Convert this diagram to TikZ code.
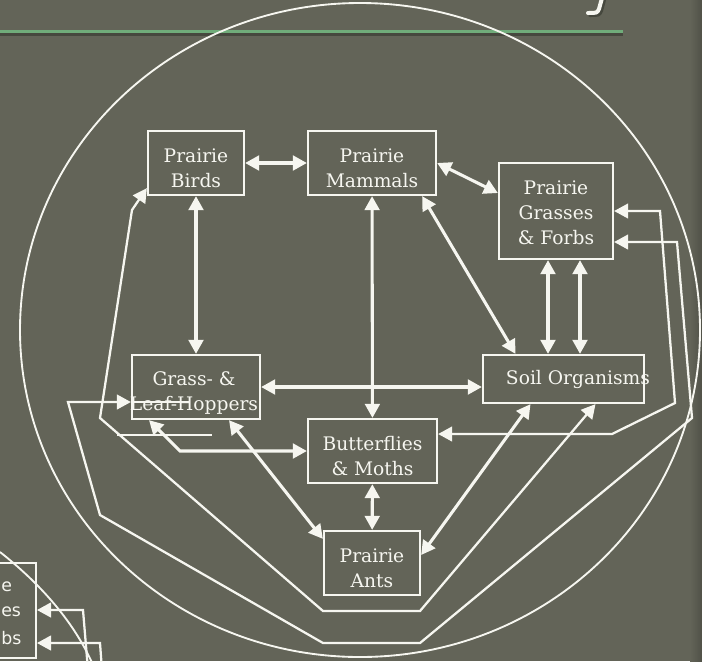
\documentclass[tikz,border=0pt]{standalone}
\usepackage{fontspec}
\setmainfont{DejaVu Serif}
\newfontfamily\slidesans{DejaVu Sans}
\usetikzlibrary{arrows.meta,calc}
\definecolor{slategrey}{RGB}{99,100,88}
\definecolor{edgeshade}{RGB}{80,81,72}
\definecolor{rulegreen}{RGB}{112,172,122}
\definecolor{ruleshadow}{RGB}{70,72,62}
\definecolor{chalk}{RGB}{246,246,240}

\begin{document}
\begin{tikzpicture}[x=0.75pt, y=-0.75pt,
    >={Triangle[length=10.5pt,width=11pt]},
    box/.style={draw=chalk, line width=1.7pt, inner sep=0pt},
    boxtext/.style={text=chalk, inner sep=0pt, align=center,
        font=\fontsize{14}{18.75}\selectfont},
    frame/.style={draw=chalk, line width=1.7pt},
    link/.style={draw=chalk, line width=2.3pt, <->},
    outerlink/.style={draw=chalk, line width=1.7pt, <->},
    stub/.style={draw=chalk, line width=1.7pt},
    rim/.style={draw=chalk, line width=1.4pt},
    copytext/.style={text=chalk, inner sep=0pt, anchor=west,
        font=\slidesans\fontsize{13}{18}\selectfont}]

    % Background
    \fill[slategrey] (0,0) rectangle (702,661);
    \useasboundingbox (0,0) rectangle (702,661);
    \clip (0,0) rectangle (702,661);
    \shade[left color=slategrey, right color=edgeshade] (690,0) rectangle (702,661);

    % Title rule and what is left of the title
    \fill[ruleshadow] (0,32.5) rectangle (623,35.5);
    \fill[rulegreen] (0,30) rectangle (623,32.5);
    \draw[ruleshadow, line width=3pt, line cap=round] (604,0) -- (601,11) .. controls (599,15) .. (590,15);
    \draw[chalk, line width=3pt, line cap=round] (602,-2) -- (599,9) .. controls (597,13) .. (588,13);

    % Circle
    \draw[rim] (360,330) ellipse [x radius=255pt, y radius=245.25pt];

    % Boxes
    \node[box, minimum width=72pt, minimum height=48pt] (birds) at (196,163) {};
    \node[box, minimum width=96pt, minimum height=48pt] (mammals) at (372,163) {};
    \node[box, minimum width=85.5pt, minimum height=72pt] (grasses) at (556,211) {};
    \node[box, minimum width=120.75pt, minimum height=36pt] (soil) at (563.5,379) {};
    \node[box, minimum width=96pt, minimum height=48pt] (hoppers) at (196,387) {};
    \node[box, minimum width=96.75pt, minimum height=48pt] (butter) at (372.5,451) {};
    \node[box, minimum width=72pt, minimum height=48pt] (ants) at (372,563) {};

    % Box texts
    \node[boxtext] (birdstext) at ($(birds)+(0,5)$) {Prairie\\Birds};
    \node[boxtext] (mammalstext) at ($(mammals)+(0,5)$) {Prairie\\Mammals};
    \node[boxtext] (grassestext) at ($(grasses)+(0,2)$) {Prairie\\Grasses\\\& Forbs};
    \node[boxtext] (soiltext) at ($(soil)+(14.5,0)$) {Soil Organisms};
    \node[boxtext] (hopperstext) at ($(hoppers)+(-2,6)$) {Grass- \&\\Leaf-Hoppers};
    \node[boxtext] (buttertext) at ($(butter)+(0,5)$) {Butterflies\\\& Moths};
    \node[boxtext] (antstext) at ($(ants)+(0,5)$) {Prairie\\Ants};

    % Links between the boxes
    \draw[link] (birds) -- (mammals);
    \draw[link] (birds) -- (hoppers);
    \draw[link] (mammals) -- (butter);
    \draw[link] (butter) -- (ants);
    \draw[link] (mammals.east) -- ($(grasses.west)+(0,-18)$);
    \draw[link] ($(mammals.south east)+(-15,0)$) -- ($(soil.north)+(-48,0)$);
    \coordinate (g1) at ($(grasses.south)+(-8,0)$);
    \coordinate (g2) at ($(grasses.south)+(24,0)$);
    \draw[link] (g1) -- (g1 |- soil.north);
    \draw[link] (g2) -- (g2 |- soil.north);
    \draw[link] (hoppers.east) -- (hoppers.east -| soil.west);
    \coordinate (hb) at (180,451);
    \draw[link] ($(hoppers.south)+(-47,0)$) -- (hb) -- (butter.west);
    \draw[link] ($(hoppers.south)+(33,0)$) -- ($(ants.north west)+(0,9)$);
    \draw[link] ($(soil.south)+(-33,0)$) -- ($(ants.east)+(0,-8)$);

    % Outer loops
    \draw[outerlink] ($(soil.south)+(32,0)$) -- (420,611) -- (323,611) -- (100,418)
        -- (132,210) -- ($(birds.south west)+(0,-8)$);
    \draw[outerlink] ($(hoppers.west)+(0,15)$) -- (68,402) -- (100,515) -- (323,643)
        -- (420,643) -- (692,418) -- (677,242) -- ($(grasses.east)+(0,31)$);
    \draw[outerlink] (grasses.east) -- (660,211) -- (675,403) -- (612,434)
        -- ($(butter.east)+(0,-17)$);

    % Stray strokes
    \coordinate (stubL) at (117,435);
    \coordinate (stubR) at (212,435);
    \draw[stub] (stubL) -- (stubR);
    \coordinate (strikeL) at ($(hoppers.west)+(0,15)$);
    \coordinate (strikeR) at (190,402);
    \draw[stub] (strikeL) -- (strikeR);

    % Next copy, lower left
    \draw[rim] (0,552) .. controls (38,582) and (76,622) .. (96,672);
    \draw[frame] (-80,563) rectangle (36,658);
    \node[copytext] (copyA) at (1,587) {e};
    \node[copytext] (copyB) at (1,612) {es};
    \node[copytext] (copyC) at (1,638) {bs};
    \coordinate (copyport1) at (37,610);
    \coordinate (copyport2) at (37,643);
    \draw[draw=chalk, line width=1.7pt, <-] (copyport1) -- (83,610) -- (88,670);
    \draw[draw=chalk, line width=1.7pt, <-] (copyport2) -- (100,643) -- (102,670);
\end{tikzpicture}
\end{document}
